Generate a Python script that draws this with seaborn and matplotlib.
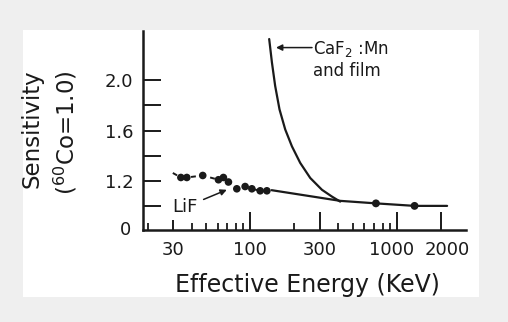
import numpy as np
import pandas as pd
import matplotlib
matplotlib.use("Agg")
import matplotlib.pyplot as plt
import seaborn as sns
from matplotlib.patches import Rectangle
from matplotlib.ticker import FixedLocator, NullFormatter
from matplotlib.transforms import ScaledTranslation

# LiF measured points (keV, relative sensitivity)
lif_pts_energy = [29.7, 33.7, 37.0, 47.5, 60.8, 65.7, 71.1, 81.1, 92.4, 102.7, 117, 130]
lif_pts_sens = [1.262, 1.226, 1.226, 1.242, 1.208, 1.226, 1.19, 1.136, 1.154, 1.136, 1.12, 1.12]

# LiF solid curve
lif_curve_energy = [140, 411, 720, 1320, 2200]
lif_curve_sens = [1.125, 1.04, 1.02, 1.0, 1.0]

# high energy points on LiF curve
lif_big_energy = [720, 1320]
lif_big_sens = [1.02, 1.0]

# CaF2:Mn and film curve
caf_energy = [134.8, 140.7, 148.1, 158.5, 173.4, 192.6, 219.4, 256.8, 308.6, 361, 411]
caf_sens = [2.328, 2.142, 1.954, 1.768, 1.608, 1.474, 1.342, 1.222, 1.128, 1.074, 1.034]

x_major = [30, 100, 300, 1000, 2000]
x_minor = [20, 40, 50, 60, 70, 80, 90, 200, 400, 500, 600, 700, 800, 900]
y_ticks = [1.0, 1.2, 1.4, 1.6, 1.8, 2.0]
y_labels = ["", "1.2", "", "1.6", "", "2.0"]

sns.set_style("white")
plt.rcParams["font.family"] = ["DejaVu Sans"]
ink = "#1a1a1a"

W, H = 508, 322
fig = plt.figure(figsize=(W / 100, H / 100), dpi=100)
fig.patch.set_facecolor("#efefef")
fig.add_artist(Rectangle((23 / W, 1 - 297 / H), (479 - 23) / W, (297 - 30) / H,
                         transform=fig.transFigure, facecolor="white", edgecolor="none", zorder=0))

ax = fig.add_axes([143 / W, 1 - 230 / H, (466 - 143) / W, (230 - 31) / H])
ax.set_facecolor("white")
ax.set_xscale("log")

pts = pd.DataFrame({"E": lif_pts_energy, "S": lif_pts_sens})
sns.lineplot(data=pts, x="E", y="S", ax=ax, color=ink, lw=1.4, estimator=None, sort=False,
             dashes=False, linestyle=(0, (2.5, 2.5)))
sns.scatterplot(data=pts.iloc[1:], x="E", y="S", ax=ax, color=ink, s=30, edgecolor="none", zorder=3)

sns.lineplot(x=lif_curve_energy, y=lif_curve_sens, ax=ax, color=ink, lw=1.6, estimator=None, sort=False)
sns.scatterplot(x=lif_big_energy, y=lif_big_sens, ax=ax, color=ink, s=32, edgecolor="none", zorder=3)
sns.lineplot(x=caf_energy, y=caf_sens, ax=ax, color=ink, lw=1.6, estimator=None, sort=False)

ax.set_xlim(18.6, 2960)
ax.set_ylim(0.808, 2.392)

ax.xaxis.set_major_locator(FixedLocator(x_major))
ax.set_xticklabels([str(v) for v in x_major])
ax.xaxis.set_minor_locator(FixedLocator(x_minor))
ax.xaxis.set_minor_formatter(NullFormatter())
ax.set_yticks(y_ticks)
ax.set_yticklabels(y_labels)

ax.tick_params(axis="both", which="both", bottom=True, left=True, top=False, right=False)
ax.tick_params(axis="both", which="major", direction="in", length=13, width=1.4,
               colors=ink, labelsize=13)
ax.tick_params(axis="x", which="minor", direction="in", length=5, width=1.3, colors=ink)
ax.tick_params(axis="y", pad=7)
ax.tick_params(axis="x", pad=8)

sns.despine(ax=ax)
for side in ["left", "bottom"]:
    ax.spines[side].set_linewidth(1.8)
    ax.spines[side].set_color(ink)

ax.set_xlabel("")
ax.set_ylabel("")

fig.canvas.draw()
ax.xaxis.get_major_ticks()[0].tick1line.set_markersize(7)
# nudge the crowded 1000 / 2000 labels apart like the original
for lab, dx in zip(ax.get_xticklabels(), [0, 0, 0, -5, 6]):
    lab.set_transform(lab.get_transform() + ScaledTranslation(dx / 100, 0, fig.dpi_scale_trans))

# "0" at the broken axis origin
fig.text(131 / W, 1 - 230 / H, "0", fontsize=13, color=ink, ha="right", va="center")

fig.text(32 / W, 1 - 129 / H, "Sensitivity", rotation=90, fontsize=16.5, color=ink,
         ha="center", va="center")
fig.text(66 / W, 1 - 133 / H, "($^{60}$Co=1.0)", rotation=90, fontsize=16.5, color=ink,
         ha="center", va="center")
fig.text(307 / W, 1 - 285 / H, "Effective Energy (KeV)", fontsize=17, color=ink,
         ha="center", va="center")

ax.annotate("LiF", xy=(69.3, 1.128), xytext=(36, 0.99), fontsize=13, color=ink,
            ha="center", va="center",
            arrowprops=dict(arrowstyle="-|>", color=ink, lw=1.1, mutation_scale=9,
                            shrinkA=2, shrinkB=0))

ax.annotate("", xy=(150, 2.26), xytext=(264, 2.26),
            arrowprops=dict(arrowstyle="-|>", color=ink, lw=1.1, mutation_scale=9,
                            shrinkA=0, shrinkB=0))
ax.text(268, 2.25, "CaF$_2$ :Mn", fontsize=12, color=ink, ha="left", va="center")
ax.text(268, 2.075, "and film", fontsize=12, color=ink, ha="left", va="center")

fig.savefig("out.png", dpi=100)
